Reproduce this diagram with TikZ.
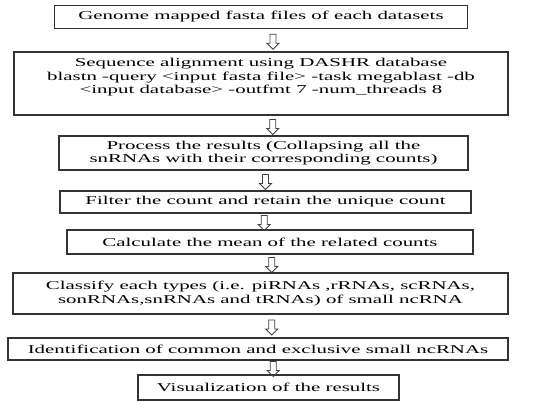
\documentclass[tikz,border=0pt]{standalone}
\usepackage{fontspec}
\setmainfont{Liberation Serif}[FakeStretch=1.74]
\usetikzlibrary{shapes.arrows}
\begin{document}
\begin{tikzpicture}[x=1pt,y=-1pt,
  box/.style={draw=black!80, line width=1.1pt, inner sep=0pt, align=center,
    font=\fontsize{12}{13.3}\selectfont},
  boxtext/.style={inner sep=0pt, align=center, font=\fontsize{12}{13.3}\selectfont},
  downarrow/.style={draw=black!75, line width=0.8pt, single arrow,
    shape border rotate=270, minimum height=15pt, inner sep=2.6pt,
    single arrow head extend=3pt, single arrow head indent=0pt}]
\useasboundingbox (0,0) rectangle (552,401);

% process steps
\node[box, minimum width=413pt, minimum height=23pt] (b1) at (261,17)
  {Genome mapped fasta files of each datasets};
\node[box, minimum width=494pt, minimum height=63pt] (b2) at (261,83.5) {};
\node[boxtext, anchor=north] (t2) at ([yshift=-7pt]b2.north)
  {Sequence alignment using DASHR database\\
   blastn -query <input fasta file> -task megablast -db\\
   <input database> -outfmt 7 -num\_threads 8};
\node[box, minimum width=409pt, minimum height=34pt] (b3) at (263.5,153)
  {Process the results (Collapsing all the\\ snRNAs with their corresponding counts)};
\node[box, minimum width=411pt, minimum height=22pt] (b4) at (265.5,202)
  {Filter the count and retain the unique count};
\node[box, minimum width=406pt, minimum height=24pt] (b5) at (270,242)
  {Calculate the mean of the related counts};
\node[box, minimum width=495pt, minimum height=41pt] (b6) at (260.5,293.5)
  {Classify each types (i.e. piRNAs ,rRNAs, scRNAs,\\ sonRNAs,snRNAs and tRNAs) of small ncRNA};
\node[box, minimum width=500pt, minimum height=22pt] (b7) at (258,349)
  {Identification of common and exclusive small ncRNAs};
\node[box, minimum width=261pt, minimum height=25pt] (b8) at (268.5,387.5)
  {Visualization of the results};

% hollow arrows between the steps
\path (b1.south) -- (b2.north) node[downarrow, midway, xshift=12pt] (a1) {};
\path (b2.south) -- (b3.north) node[downarrow, midway, xshift=10.5pt] (a2) {};
\path (b3.south) -- (b4.north) node[downarrow, midway, xshift=1pt] (a3) {};
\path (b4.south) -- (b5.north) node[downarrow, midway, xshift=-3.5pt] (a4) {};
\path (b5.south) -- (b6.north) node[downarrow, midway, xshift=6.5pt] (a5) {};
\path (b6.south) -- (b7.north) node[downarrow, midway, xshift=12.5pt] (a6) {};
\path (b7.south) -- (b8.north) node[downarrow, midway, xshift=10pt] (a7) {};
\end{tikzpicture}
\end{document}
